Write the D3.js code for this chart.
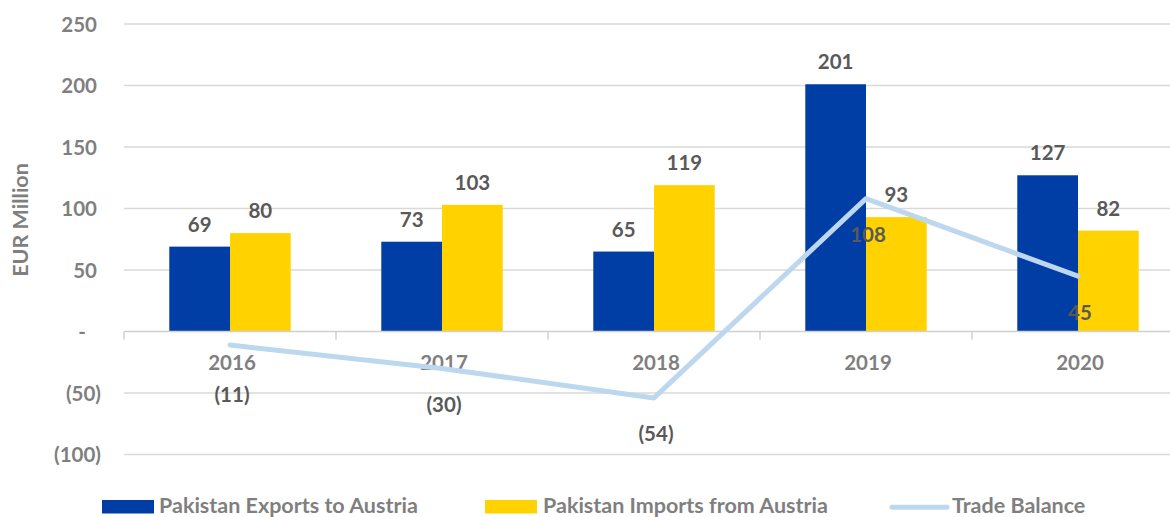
<!DOCTYPE html>
<html>
<head>
<meta charset="utf-8">
<script src="https://cdn.jsdelivr.net/npm/d3@7"></script>
<style>
  html, body { margin: 0; padding: 0; background: #fff; }
  svg { display: block; font-family: Lato, "Open Sans", sans-serif; font-weight: bold; }
</style>
</head>
<body>
<svg id="chart" width="1170" height="517"></svg>
<script>
const categories = ["2016", "2017", "2018", "2019", "2020"];
const exportsToAustria = [69, 73, 65, 201, 127];
const importsFromAustria = [80, 103, 119, 93, 82];
const tradeBalance = [-11, -30, -54, 108, 45];
const yTicks = [-100, -50, 0, 50, 100, 150, 200, 250];
const seriesNames = ["Pakistan Exports to Austria", "Pakistan Imports from Austria", "Trade Balance"];

const colors = { exp: "#003DA5", imp: "#FFD200", line: "#BDD7EE", grid: "#D9D9D9", axisText: "#7F7F7F", label: "#595959" };

const svg = d3.select("#chart");
const plotLeft = 124, plotRight = 1184, plotTop = 24, plotBottom = 454.5;
const numSize = 20.5, legendSize = 21.5;

const y = d3.scaleLinear().domain([-100, 250]).range([plotBottom, plotTop]);
const x0 = d3.scaleBand().domain(categories).range([plotLeft, plotRight]).paddingInner(0).paddingOuter(0);
const x1 = d3.scaleBand().domain(["exp", "imp"]).range([0, x0.bandwidth()]).paddingInner(0).paddingOuter(0.746);

const fmt = v => v < 0 ? "(" + Math.abs(v) + ")" : (v === 0 ? "-" : String(v));

// gridlines
svg.append("g").selectAll("line").data(yTicks.filter(d => d !== 0)).join("line")
  .attr("x1", plotLeft).attr("x2", plotRight)
  .attr("y1", d => y(d)).attr("y2", d => y(d))
  .attr("stroke", colors.grid).attr("stroke-width", 1.3);

// y tick labels
svg.append("g").selectAll("text").data(yTicks).join("text")
  .attr("x", d => d === 0 ? 82 : (d < 0 ? 101 : 97))
  .attr("y", d => y(d) + 7.5)
  .attr("text-anchor", d => d === 0 ? "middle" : "end")
  .attr("fill", colors.axisText).attr("font-size", numSize)
  .text(fmt);

// y axis title
svg.append("text")
  .attr("transform", "translate(28," + 220 + ") rotate(-90)")
  .attr("text-anchor", "middle")
  .attr("fill", colors.axisText).attr("font-size", 21.5)
  .text("EUR Million");

// bars
const barData = [];
categories.forEach((c, i) => {
  barData.push({ c, key: "exp", v: exportsToAustria[i] });
  barData.push({ c, key: "imp", v: importsFromAustria[i] });
});
svg.append("g").selectAll("rect").data(barData).join("rect")
  .attr("x", d => x0(d.c) + x1(d.key))
  .attr("width", x1.bandwidth())
  .attr("y", d => y(Math.max(0, d.v)))
  .attr("height", d => Math.abs(y(d.v) - y(0)))
  .attr("fill", d => colors[d.key]);

// zero axis line with category ticks
const axis = d3.axisBottom(x0).tickSize(0).tickFormat("");
const ax = svg.append("g").attr("transform", "translate(0," + y(0) + ")").call(axis);
ax.select(".domain").remove();
svg.append("line").attr("x1", plotLeft).attr("x2", plotRight).attr("y1", y(0)).attr("y2", y(0))
  .attr("stroke", "#D0D0D0").attr("stroke-width", 1.5);
const bounds = categories.map(c => x0(c)).concat([plotRight]);
svg.append("g").selectAll("line").data(bounds).join("line")
  .attr("x1", d => d).attr("x2", d => d)
  .attr("y1", y(0)).attr("y2", y(0) + 8)
  .attr("stroke", "#D0D0D0").attr("stroke-width", 1.5);

// category labels
svg.append("g").selectAll("text").data(categories).join("text")
  .attr("x", d => x0(d) + x0.bandwidth() / 2 + 2)
  .attr("y", 370)
  .attr("text-anchor", "middle")
  .attr("fill", colors.axisText).attr("font-size", numSize)
  .text(d => d);

// bar value labels
svg.append("g").selectAll("text").data(barData).join("text")
  .attr("x", d => x0(d.c) + x1(d.key) + x1.bandwidth() / 2)
  .attr("y", d => y(d.v) - 15)
  .attr("text-anchor", "middle")
  .attr("fill", colors.label).attr("font-size", numSize)
  .text(d => d.v);

// trade balance line
const lineData = categories.map((c, i) => ({ c, v: tradeBalance[i] }));
const line = d3.line().x(d => x0(d.c) + x0.bandwidth() / 2).y(d => y(d.v));
svg.append("path").datum(lineData)
  .attr("d", line)
  .attr("fill", "none").attr("stroke", colors.line)
  .attr("stroke-width", 5).attr("stroke-linecap", "round").attr("stroke-linejoin", "round");

svg.append("g").selectAll("text").data(lineData).join("text")
  .attr("x", d => x0(d.c) + x0.bandwidth() / 2 + 2)
  .attr("y", (d, i) => y(d.v) + (i === 0 ? 49 : 36) + 7.5)
  .attr("text-anchor", "middle")
  .attr("fill", colors.label).attr("font-size", numSize)
  .text(d => fmt(d.v));

// legend
const lg = svg.append("g");
lg.append("rect").attr("x", 102).attr("y", 500).attr("width", 52).attr("height", 13.5).attr("fill", colors.exp);
lg.append("text").attr("x", 159).attr("y", 512.5).attr("fill", colors.axisText).attr("font-size", legendSize).text(seriesNames[0]);
lg.append("rect").attr("x", 485).attr("y", 500).attr("width", 52).attr("height", 13.5).attr("fill", colors.imp);
lg.append("text").attr("x", 543).attr("y", 512.5).attr("fill", colors.axisText).attr("font-size", legendSize).text(seriesNames[1]);
lg.append("line").attr("x1", 892).attr("x2", 947).attr("y1", 507.3).attr("y2", 507.3)
  .attr("stroke", colors.line).attr("stroke-width", 5).attr("stroke-linecap", "round");
lg.append("text").attr("x", 952).attr("y", 512.5).attr("fill", colors.axisText).attr("font-size", legendSize).text(seriesNames[2]);
</script>
</body>
</html>
